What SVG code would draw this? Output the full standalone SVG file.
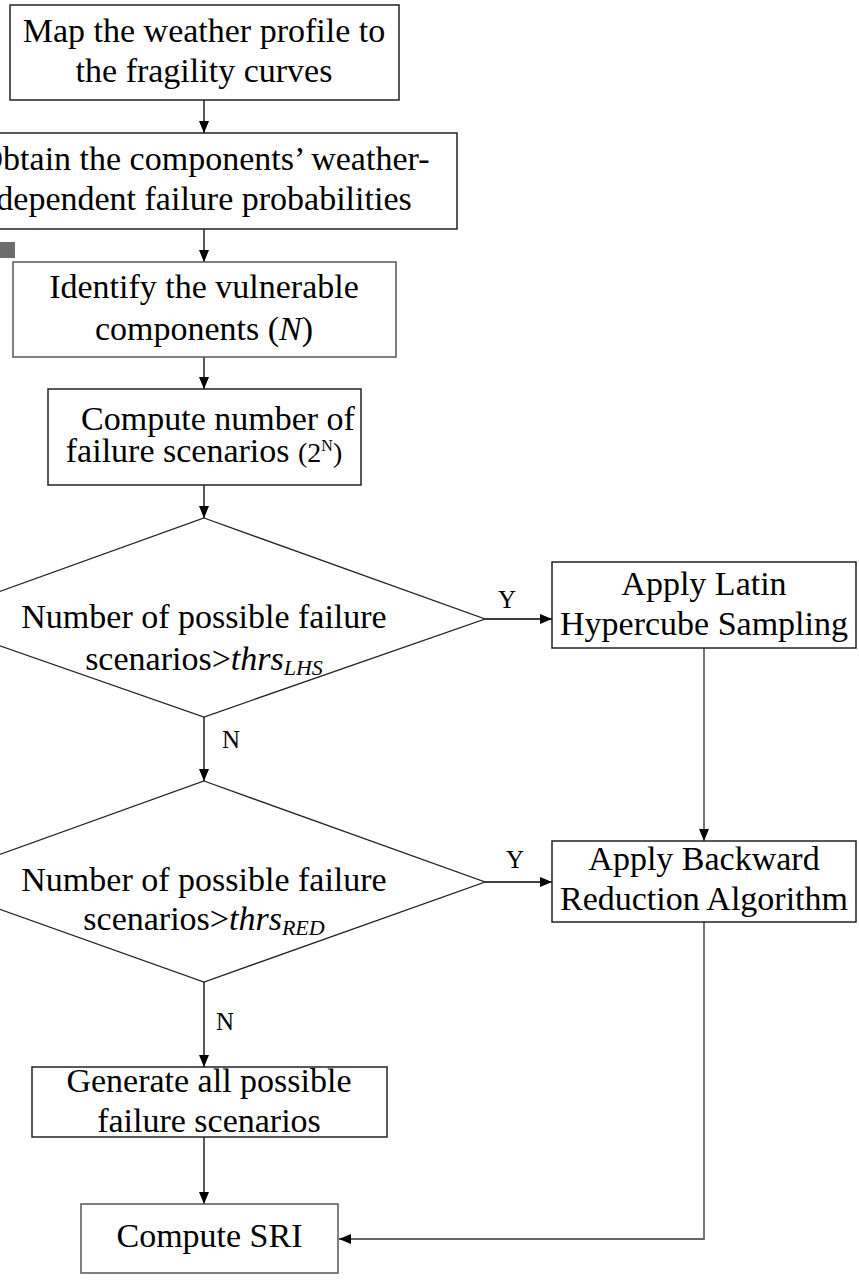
<svg xmlns="http://www.w3.org/2000/svg" width="859" height="1281" viewBox="0 0 859 1281">
<style>
text{font-family:"Liberation Serif","Times New Roman",serif;font-size:34px;fill:#000;text-anchor:middle}
.box{fill:#fff;stroke:#222;stroke-width:1.5}
.gbox{fill:#fff;stroke:#555;stroke-width:1.5}
.con{fill:none;stroke:#000;stroke-width:1.3}
.gcon{fill:none;stroke:#666;stroke-width:1.8}
.lbl{font-size:25px}
</style>
<defs>
<marker id="ah" viewBox="0 0 12 10" refX="12" refY="5" markerWidth="12" markerHeight="10" markerUnits="userSpaceOnUse" orient="auto">
<path d="M0,0 L12,5 L0,10 z" fill="#000"/>
</marker>
</defs>
<rect x="-2" y="242" width="17" height="16" fill="#6d6d6d"/>
<g id="connectors">
<line class="con" x1="204" y1="100" x2="204" y2="133" marker-end="url(#ah)"/>
<line class="con" x1="204" y1="229" x2="204" y2="262" marker-end="url(#ah)"/>
<line class="con" x1="204" y1="357" x2="204" y2="389" marker-end="url(#ah)"/>
<line class="con" x1="204" y1="485" x2="204" y2="518" marker-end="url(#ah)"/>
<line class="con" x1="485" y1="619" x2="552" y2="619" marker-end="url(#ah)"/>
<line class="gcon" x1="704" y1="648" x2="704" y2="841" marker-end="url(#ah)"/>
<line class="con" x1="204" y1="717" x2="204" y2="781" marker-end="url(#ah)"/>
<line class="con" x1="485" y1="882" x2="552" y2="882" marker-end="url(#ah)"/>
<line class="con" x1="204" y1="982" x2="204" y2="1067" marker-end="url(#ah)"/>
<line class="con" x1="204" y1="1137" x2="204" y2="1204" marker-end="url(#ah)"/>
<polyline class="gcon" points="704,922 704,1239 339,1239" marker-end="url(#ah)"/>
<text class="lbl" x="507" y="608">Y</text>
<text class="lbl" x="231" y="748">N</text>
<text class="lbl" x="515" y="868">Y</text>
<text class="lbl" x="225" y="1030">N</text>
</g>
<g id="map">
<rect class="box" x="10" y="5" width="389" height="95"/>
<text x="204" y="42">Map the weather profile to</text>
<text x="204" y="82">the fragility curves</text>
</g>
<g id="obtain">
<rect class="box" x="-49" y="133" width="506" height="96"/>
<text x="204" y="170">Obtain the components’ weather-</text>
<text x="204" y="210">dependent failure probabilities</text>
</g>
<g id="identify">
<rect class="gbox" x="13" y="262" width="383" height="95"/>
<text x="204" y="298">Identify the vulnerable</text>
<text x="204" y="340">components (<tspan font-style="italic">N</tspan>)</text>
</g>
<g id="compute-number">
<rect class="box" x="48" y="389" width="313" height="96"/>
<text x="218" y="430">Compute number of</text>
<text x="204" y="462">failure scenarios <tspan font-size="28">(2</tspan><tspan font-size="16" dy="-11">N</tspan><tspan font-size="28" dy="11">)</tspan></text>
</g>
<g id="decision-lhs">
<polygon class="box" points="204,518 485,619 204,717 -77,619" style="stroke-width:1.3"/>
<text x="204" y="628">Number of possible failure</text>
<text x="204" y="670">scenarios&gt;<tspan font-style="italic">thrs</tspan><tspan font-style="italic" font-size="22" dy="5">LHS</tspan></text>
</g>
<g id="lhs">
<rect class="box" x="552" y="562" width="304" height="86"/>
<text x="704" y="595">Apply Latin</text>
<text x="704" y="635">Hypercube Sampling</text>
</g>
<g id="decision-red">
<polygon class="box" points="204,781 485,882 204,982 -77,882" style="stroke-width:1.3"/>
<text x="204" y="891">Number of possible failure</text>
<text x="204" y="930">scenarios&gt;<tspan font-style="italic">thrs</tspan><tspan font-style="italic" font-size="22" dy="5">RED</tspan></text>
</g>
<g id="red">
<rect class="box" x="552" y="841" width="304" height="81"/>
<text x="704" y="870">Apply Backward</text>
<text x="704" y="910">Reduction Algorithm</text>
</g>
<g id="generate">
<rect class="box" x="32" y="1067" width="355" height="70"/>
<text x="209" y="1092">Generate all possible</text>
<text x="209" y="1132">failure scenarios</text>
</g>
<g id="sri">
<rect class="gbox" x="81" y="1204" width="257" height="69"/>
<text x="209.5" y="1247">Compute SRI</text>
</g>
</svg>
